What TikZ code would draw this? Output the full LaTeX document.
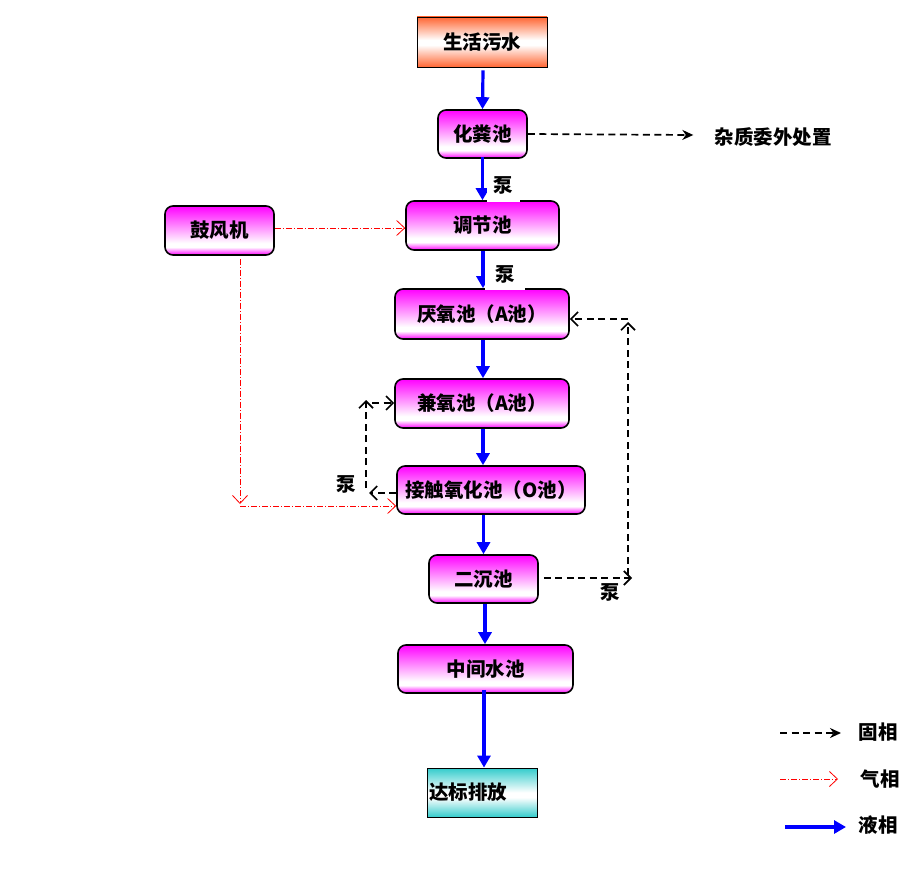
\documentclass[tikz,border=0pt]{standalone}
\usepackage{fontspec}
\newfontfamily\cjk{Noto Sans CJK SC}
\usetikzlibrary{arrows.meta,calc}
\definecolor{orng}{RGB}{255,102,51}
\definecolor{tealc}{RGB}{51,204,204}
\pgfdeclareverticalshading{pinkshade}{100bp}{color(0bp)=(magenta); color(25bp)=(magenta); color(33bp)=(white); color(37bp)=(white); color(75bp)=(magenta); color(100bp)=(magenta)}
\pgfdeclareverticalshading{orngshade}{100bp}{color(0bp)=(orng); color(25bp)=(orng); color(47bp)=(white); color(52bp)=(white); color(75bp)=(orng); color(100bp)=(orng)}
\pgfdeclareverticalshading{tealshade}{100bp}{color(0bp)=(tealc); color(25bp)=(tealc); color(45bp)=(white); color(50bp)=(white); color(75bp)=(tealc); color(100bp)=(tealc)}
\tikzset{
  txt/.style={font=\cjk\bfseries\fontsize{19.5}{22}\selectfont, inner sep=1pt},
  pinkbox/.style={txt, draw=black, line width=1.6pt, rounded corners=8pt, shade, shading=pinkshade, inner sep=0pt},
  srcbox/.style={txt, draw=black, line width=0.9pt, shade, shading=orngshade, inner sep=0pt},
  outbox/.style={txt, draw=black, line width=0.9pt, shade, shading=tealshade, inner sep=0pt},
  liq/.style={draw=blue, line width=3.2pt, -{Triangle[length=12pt,width=13pt]}},
  sol/.style={draw=black, line width=1.7pt, dash pattern=on 7pt off 4.5pt},
  solarr/.style={sol, -{Stealth[length=11pt,width=10pt]}},
  solopen/.style={sol, -{Straight Barb[length=7pt,width=14pt,line width=1.7pt]}},
  gas/.style={draw=red, line width=0.8pt, dash pattern=on 6pt off 2pt on 1pt off 2pt, -{Straight Barb[length=8pt,width=15pt,line width=0.8pt]}},
  pumplab/.style={txt, fill=white, inner sep=0pt}
}
\begin{document}
\begin{tikzpicture}[x=1pt,y=-1pt]
\useasboundingbox[fill=white] (0,0) rectangle (915,893);

% boxes
\node[srcbox, minimum width=130pt, minimum height=50pt] (src) at (482,42) {生活污水};
\node[pinkbox, minimum width=89pt, minimum height=48pt] (fen) at (482.5,134) {化粪池};
\node[pinkbox, minimum width=153pt, minimum height=49pt] (tiao) at (482.5,225.5) {调节池};
\node[pinkbox, minimum width=109pt, minimum height=49pt] (blow) at (219.5,230.5) {鼓风机};
\node[pinkbox, minimum width=174pt, minimum height=50pt] (yan) at (482,314) {厌氧池（A池）};
\node[pinkbox, minimum width=174pt, minimum height=49pt] (jian) at (482,403.5) {兼氧池（A池）};
\node[pinkbox, minimum width=188pt, minimum height=48pt] (jie) at (491,490) {接触氧化池（O池）};
\node[pinkbox, minimum width=109pt, minimum height=48pt] (er) at (483.5,579) {二沉池};
\node[pinkbox, minimum width=175pt, minimum height=48pt] (zhong) at (485.5,669) {中间水池};
\node[outbox, minimum width=110pt, minimum height=49pt, text width=106pt, align=left, inner xsep=2pt] (out) at (482,792.5) {\raisebox{3pt}{达标排放}};
\node[txt] (waste) at (773,137) {杂质委外处置};

% liquid flow
\draw[liq] ($(src.south)+(1,3)$) -- (fen.north);
\draw[liq] ($(fen.south)+(0,-2)$) -- (tiao.north);
\draw[liq] ($(tiao.south)+(0.5,0)$) -- ($(yan.north)+(1,0)$);
\draw[liq] ($(yan.south)+(1,0)$) -- ($(jian.north)+(1,0)$);
\draw[liq] ($(jian.south)+(1,0)$) -- ($(jian.south |- jie.north)+(1,0)$);
\draw[liq] (jie.south -| er.north) -- (er.north);
\draw[liq] ($(er.south)+(1.5,0)$) -- ($(zhong.north)+(-0.5,0)$);
\draw[liq] ($(zhong.south)+(-1.5,-4)$) -- ($(out.north)+(2,0)$);

% pump labels
\node[pumplab, minimum width=33pt, minimum height=31pt] (p1) at (503.5,187) {\raisebox{4pt}{泵}};
\node[pumplab, minimum width=40pt, minimum height=30pt] (p2) at (505,275) {\raisebox{3pt}{泵}};
\node[txt] (p3) at (346,484) {泵};
\node[txt] (p4) at (610,592) {泵};

% solid phase
\draw[solarr] (fen.east) -- ($(waste.west)+(-20,-2)$);
\coordinate (lc) at (366,493);
\coordinate (lt) at (366,403);
\draw[solopen] (jie.west |- lc) -- ($(lc)+(3,0)$);
\draw[solopen] ($(lc)+(0,-5)$) -- ($(lt)+(0,-3)$);
\draw[solopen] ($(lt)+(6,0)$) -- (jian.west |- lt);
\coordinate (rb) at (628,578);
\coordinate (rt) at (628,319);
\draw[solopen] ($(er.east)+(5,-1)$) -- ($(rb)+(4,0)$);
\draw[solopen] ($(rb)+(0,-3)$) -- ($(rt)+(0,3)$);
\draw[solopen] (rt) -- (yan.east |- rt);

% gas phase
\draw[gas] ($(blow.east)+(0,-2.5)$) -- (tiao.west |- 0,228);
\coordinate (rc) at (240,506);
\draw[gas] ($(blow.south)+(20.5,3)$) -- ($(rc)+(0,-2)$);
\draw[gas] (rc) -- (jie.west |- rc);

% legend
\coordinate (l1a) at (780,733);
\coordinate (l1b) at (841,733);
\coordinate (l2a) at (780,779);
\coordinate (l2b) at (838,779);
\coordinate (l3a) at (785,827);
\coordinate (l3b) at (846,827);
\node[txt] (lg1) at (878,732) {固相};
\node[txt] (lg2) at (880,779) {气相};
\node[txt] (lg3) at (878,825) {液相};
\draw[solarr] (l1a) -- (l1b);
\draw[gas] (l2a) -- (l2b);
\draw[liq] (l3a) -- (l3b);
\end{tikzpicture}
\end{document}
